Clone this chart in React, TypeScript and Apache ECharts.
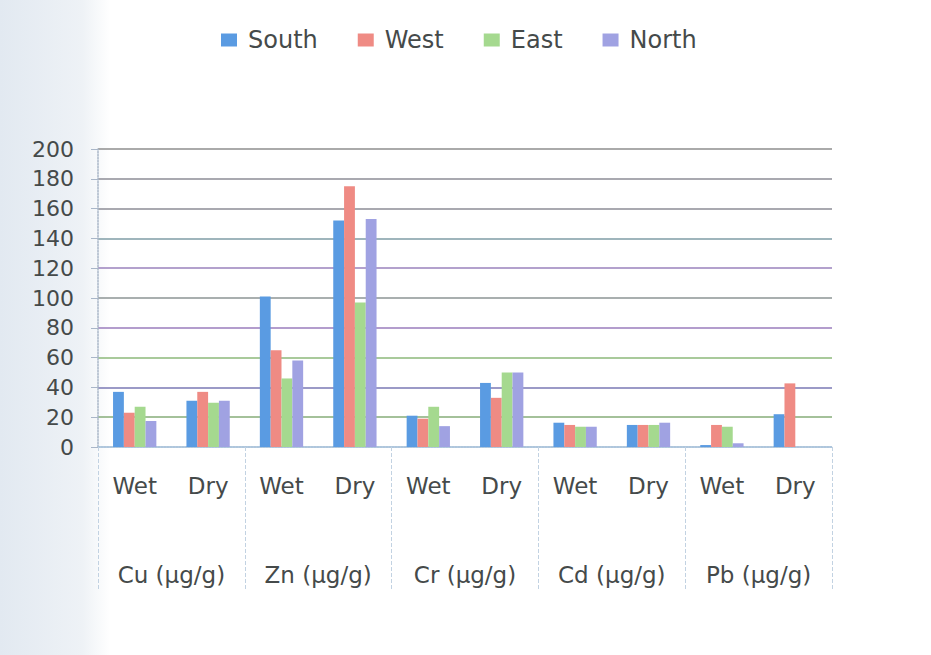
import React, { useEffect, useRef } from "react";
import * as echarts from "echarts";

// Sub-categories (season) and the metal groups they belong to
const seasons = ["Wet", "Dry", "Wet", "Dry", "Wet", "Dry", "Wet", "Dry", "Wet", "Dry"];
const metals = ["Cu (µg/g)", "Zn (µg/g)", "Cr (µg/g)", "Cd (µg/g)", "Pb (µg/g)"];

// Concentrations by sampling direction
const south = [37, 31, 101, 152, 21, 43, 16.3, 14.8, 1.3, 22];
const west = [23, 37, 65, 175, 19, 33, 14.8, 14.8, 14.8, 42.7];
const east = [27, 29.7, 46, 97, 27, 50, 13.6, 14.8, 13.6, null];
const north = [17.5, 31, 58, 153, 14, 50, 13.6, 16.3, 2.5, null];

const yTicks = { min: 0, max: 200, interval: 20 };

const FONT = "'DejaVu Sans', 'Open Sans', sans-serif";
const TEXT = "#454a4a";

export default function App() {
  const ref = useRef<HTMLDivElement>(null);

  useEffect(() => {
    if (!ref.current) return;
    const chart = echarts.init(ref.current, undefined, { renderer: "svg" });

    const bar = (name: string, data: (number | null)[], color: string) => ({
      name,
      type: "bar",
      data,
      xAxisIndex: 0,
      barGap: "0%",
      barCategoryGap: "41%",
      itemStyle: { color },
    });

    chart.setOption({
      animation: false,
      backgroundColor: "#ffffff",
      graphic: [
        {
          type: "rect",
          z: -10,
          shape: { x: 0, y: 0, width: 110, height: 655 },
          style: {
            fill: new echarts.graphic.LinearGradient(0, 0, 1, 0, [
              { offset: 0, color: "#e2e9f1" },
              { offset: 0.75, color: "#eef2f6" },
              { offset: 1, color: "#ffffff" },
            ]),
          },
        },
      ],
      legend: {
        top: 23,
        left: 216,
        itemWidth: 16,
        itemHeight: 13,
        itemGap: 40,
        icon: "rect",
        textStyle: { fontFamily: FONT, fontSize: 24, color: TEXT, padding: [0, 0, 0, 6] },
        data: ["South", "West", "East", "North"],
      },
      grid: { left: 98, right: 99, top: 149, bottom: 208, containLabel: false },
      xAxis: [
        {
          type: "category",
          data: seasons,
          position: "bottom",
          axisLine: { show: true, lineStyle: { color: "#a9c2da", type: "dotted", width: 1.5 } },
          axisTick: { show: false },
          axisLabel: {
            interval: 0,
            margin: 27,
            fontFamily: FONT,
            fontSize: 23,
            color: TEXT,
          },
          splitLine: { show: false },
        },
        {
          type: "category",
          data: metals,
          position: "bottom",
          axisLine: { show: false },
          axisTick: {
            show: true,
            length: 143,
            lineStyle: { color: "#c2d2e2", type: "dashed", width: 1 },
          },
          axisLabel: {
            interval: 0,
            margin: 116,
            fontFamily: FONT,
            fontSize: 23,
            color: TEXT,
          },
          splitLine: { show: false },
        },
      ],
      yAxis: {
        type: "value",
        min: yTicks.min,
        max: yTicks.max,
        interval: yTicks.interval,
        axisLine: { show: true, lineStyle: { color: "#a9b6c8", type: "dotted", width: 1.5 } },
        axisTick: { show: true, length: 7, lineStyle: { color: "#a9b6c8" } },
        axisLabel: { margin: 24, fontFamily: FONT, fontSize: 22, color: TEXT },
        splitLine: {
          show: true,
          lineStyle: {
            width: 1.5,
            color: [
              "#a9c2da",
              "#86ad78",
              "#7a78b4",
              "#8cb87a",
              "#9a7cbc",
              "#8c9494",
              "#9a82bc",
              "#7f9ca6",
              "#8c8c96",
              "#8c8c96",
              "#8e8e8e",
            ],
          },
        },
      },
      series: [
        bar("South", south, "#5a9be2"),
        bar("West", west, "#ef8b84"),
        bar("East", east, "#a5d98f"),
        bar("North", north, "#a0a2e2"),
      ],
    });

    return () => chart.dispose();
  }, []);

  return (
    <div
      ref={ref}
      style={{ position: "fixed", left: 0, top: 0, width: 931, height: 655, background: "#fff" }}
    />
  );
}
